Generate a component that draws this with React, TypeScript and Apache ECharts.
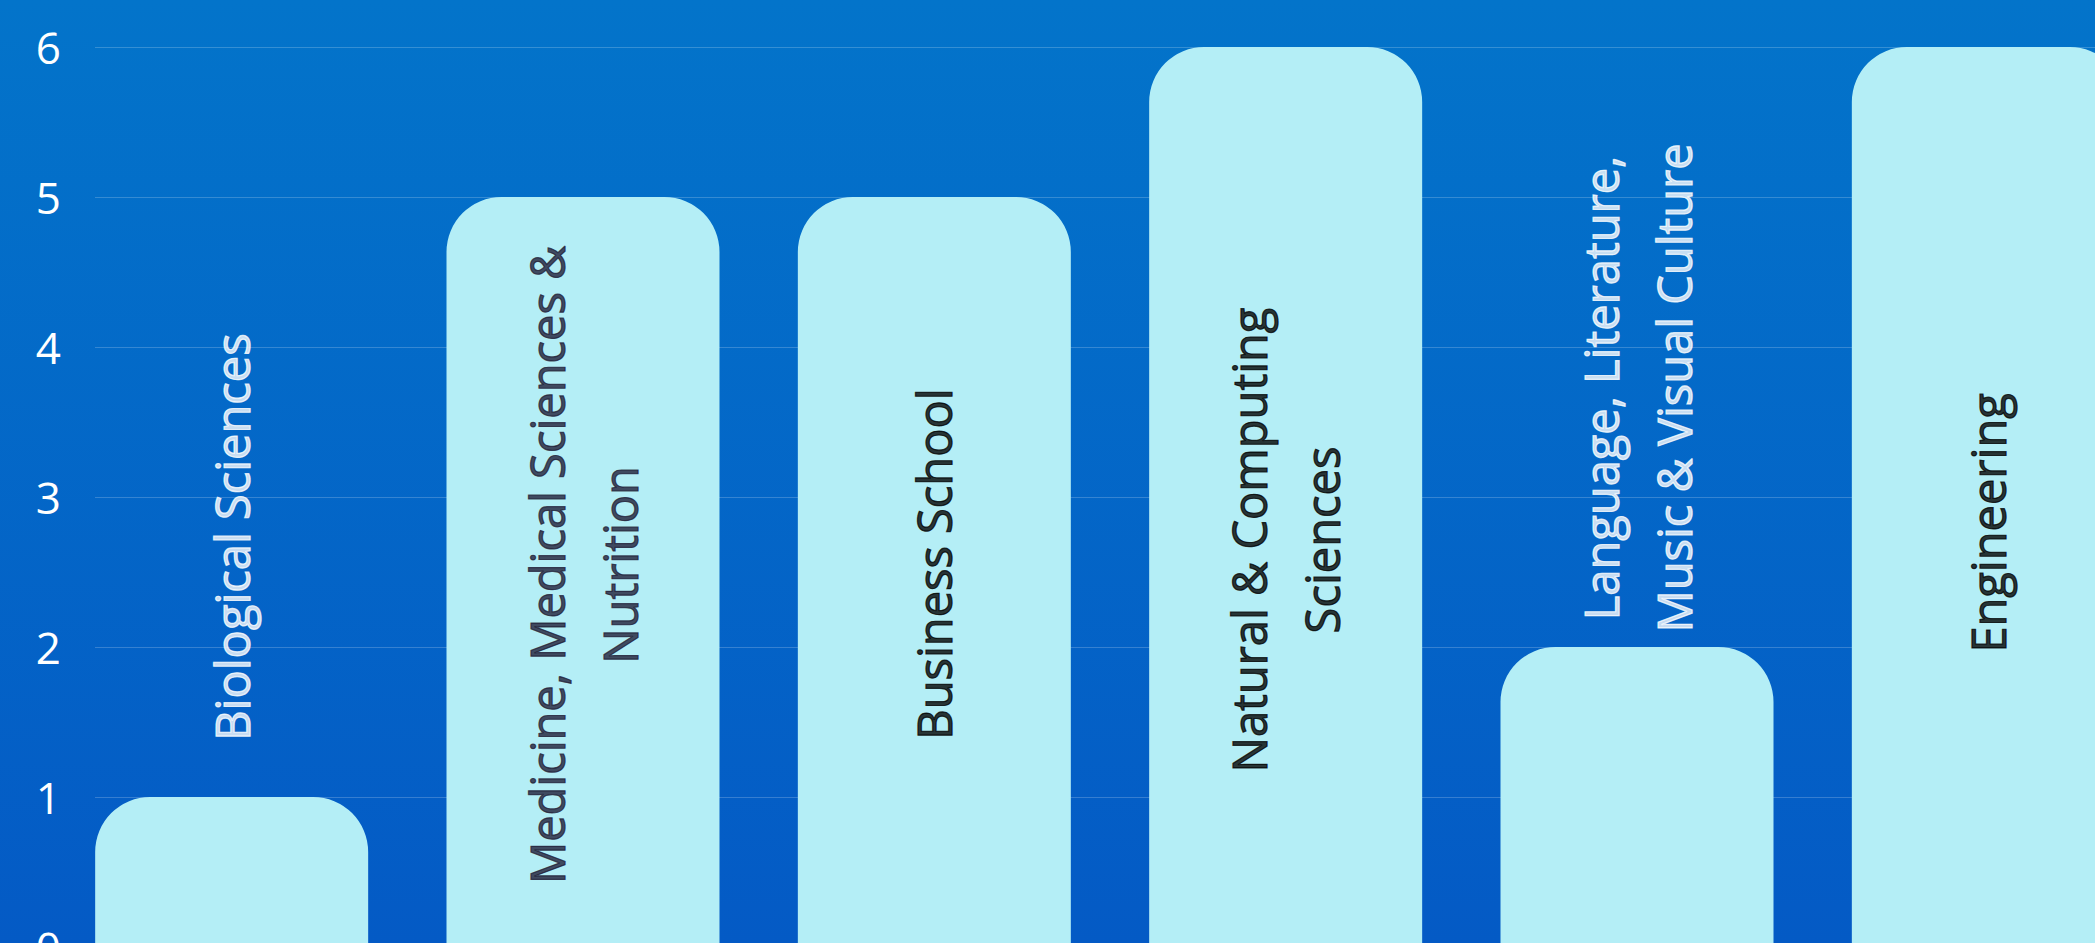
import React, { useEffect, useRef } from 'react';
import * as echarts from 'echarts';

const categories = [
  'Biological Sciences',
  'Medicine, Medical Sciences &\nNutrition',
  'Business School',
  'Natural & Computing\nSciences',
  'Language, Literature,\nMusic & Visual Culture',
  'Engineering',
];
const values = [1, 5, 5, 6, 2, 6];
const yMin = 0;
const yMax = 6;
const yStep = 1;

// label placement (axis units) and colours of the rotated category texts
const labelCenters = [2.733, 2.547, 2.553, 2.713, 3.727, 2.827];
const labelColors = ['#ffffff', '#1f1d36', '#000000', '#000000', '#ffffff', '#000000'];

export default function App() {
  const ref = useRef<HTMLDivElement>(null);
  useEffect(() => {
    const chart = echarts.init(ref.current as HTMLDivElement, null, { renderer: 'svg' });
    chart.setOption({
      animation: false,
      backgroundColor: {
        type: 'linear', x: 0, y: 0, x2: 0, y2: 1,
        colorStops: [
          { offset: 0, color: '#0374CA' },
          { offset: 1, color: '#045AC5' },
        ],
      },
      grid: [
        { left: 95, top: 47, width: 2100, height: 900, outerBoundsMode: 'none', containLabel: false },
        { left: 56, top: 47, width: 2108, height: 900, outerBoundsMode: 'none', containLabel: false },
      ],
      xAxis: [
        { gridIndex: 0, type: 'value', show: false },
        { gridIndex: 1, type: 'category', data: categories, show: false },
      ],
      yAxis: [
        {
          gridIndex: 0, type: 'value', min: yMin, max: yMax, interval: yStep,
          axisLine: { show: false }, axisTick: { show: false },
          axisLabel: { color: '#ffffff', fontSize: 44, fontFamily: 'Open Sans', margin: 34 },
          splitLine: { show: true, lineStyle: { color: 'rgba(255,255,255,0.2)', width: 1 } },
        },
        { gridIndex: 1, type: 'value', min: yMin, max: yMax, interval: yStep, show: false, splitLine: { show: false } },
      ],
      series: [
        {
          type: 'bar', xAxisIndex: 1, yAxisIndex: 1, data: values, barWidth: 273,
          itemStyle: { color: '#B4EEF6', borderRadius: [55, 55, 0, 0] },
          z: 2,
        },
        {
          type: 'scatter', xAxisIndex: 1, yAxisIndex: 1, symbolSize: 1,
          itemStyle: { color: 'rgba(0,0,0,0)' },
          silent: true, z: 5, clip: false,
          data: labelCenters.map((v, i) => ({
            value: [i, v],
            label: { color: labelColors[i], textBorderColor: labelColors[i], textBorderWidth: 1.2 },
          })),
          label: {
            show: true, position: 'inside', rotate: 90,
            formatter: (p: any) => categories[p.dataIndex],
            fontFamily: 'Open Sans', fontSize: 47, fontWeight: 400, lineHeight: 73,
            align: 'center', verticalAlign: 'middle',
          },
        },
      ],
    });
    return () => chart.dispose();
  }, []);
  return <div ref={ref} style={{ position: 'fixed', left: 0, top: 0, width: 2095, height: 943 }} />;
}
